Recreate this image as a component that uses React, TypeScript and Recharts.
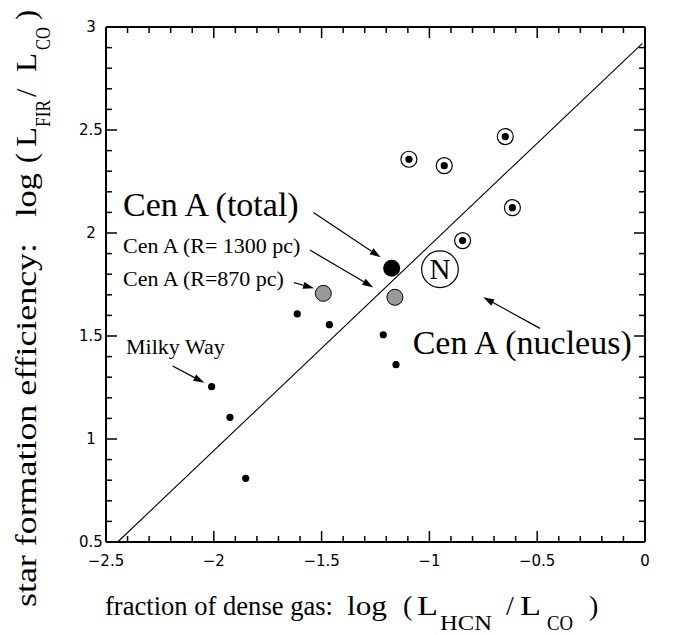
import React from "react";
import { ScatterChart, Scatter, XAxis, YAxis, ReferenceLine } from "recharts";

// ---------- data ----------
const xTicks = [-2.5, -2.4, -2.3, -2.2, -2.1, -2, -1.9, -1.8, -1.7, -1.6, -1.5, -1.4, -1.3, -1.2, -1.1, -1, -0.9, -0.8, -0.7, -0.6, -0.5, -0.4, -0.3, -0.2, -0.1, 0];
const yTicks = [0.5, 0.6, 0.7, 0.8, 0.9, 1, 1.1, 1.2, 1.3, 1.4, 1.5, 1.6, 1.7, 1.8, 1.9, 2, 2.1, 2.2, 2.3, 2.4, 2.5, 2.6, 2.7, 2.8, 2.9, 3];

const smallDots = [
  { x: -2.01, y: 1.254 },
  { x: -1.925, y: 1.105 },
  { x: -1.852, y: 0.809 },
  { x: -1.613, y: 1.607 },
  { x: -1.464, y: 1.555 },
  { x: -1.214, y: 1.506 },
  { x: -1.155, y: 1.361 },
];
const circledDots = [
  { x: -1.095, y: 2.358 },
  { x: -0.931, y: 2.327 },
  { x: -0.648, y: 2.468 },
  { x: -0.615, y: 2.123 },
  { x: -0.846, y: 1.963 },
];
const grayDots = [
  { x: -1.492, y: 1.707 },
  { x: -1.16, y: 1.688 },
];
const totalDot = [{ x: -1.175, y: 1.829 }];
const nucleusDot = [{ x: -0.951, y: 1.824, text: "N" }];

const fitLine = [
  { x: -2.446, y: 0.5 },
  { x: -0.012, y: 2.921 },
];

const labels = [
  { x: -2.421, y: 2.083, text: "Cen A (total)", size: 34 },
  { x: -2.421, y: 1.904, text: "Cen A (R= 1300 pc)", size: 22 },
  { x: -2.421, y: 1.743, text: "Cen A (R=870 pc)", size: 22 },
  { x: -2.407, y: 1.413, text: "Milky Way", size: 22 },
  { x: -1.0775, y: 1.413, text: "Cen A (nucleus)", size: 34 },
];

const arrows = [
  { x1: -1.538, y1: 2.099, x2: -1.226, y2: 1.882 },
  { x1: -1.554, y1: 1.917, x2: -1.26, y2: 1.736 },
  { x1: -1.628, y1: 1.759, x2: -1.535, y2: 1.732 },
  { x1: -2.191, y1: 1.354, x2: -2.044, y2: 1.273 },
  { x1: -0.487, y1: 1.537, x2: -0.75, y2: 1.688 },
];

// axis title pieces: text, position along text, length (0 = natural), subscript?
const xTitleParts = [
  { t: "fraction of dense gas:", p: 105, len: 228, sub: false },
  { t: "log", p: 347, len: 40, sub: false },
  { t: "(", p: 403, len: 0, sub: false },
  { t: "L", p: 417, len: 21, sub: false },
  { t: "HCN", p: 440, len: 52, sub: true },
  { t: "/", p: 506, len: 0, sub: false },
  { t: "L", p: 520, len: 21, sub: false },
  { t: "CO", p: 547, len: 26, sub: true },
  { t: ")", p: 589, len: 0, sub: false },
];
const yTitleParts = [
  { t: "star formation efficiency:", p: 607, len: 364, sub: false },
  { t: "log", p: 217, len: 44, sub: false },
  { t: "(", p: 163, len: 0, sub: false },
  { t: "L", p: 147, len: 20, sub: false },
  { t: "FIR", p: 127, len: 27, sub: true },
  { t: "/", p: 97, len: 0, sub: false },
  { t: "L", p: 72, len: 19, sub: false },
  { t: "CO", p: 50, len: 23, sub: true },
  { t: ")", p: 20, len: 0, sub: false },
];

// ---------- helpers ----------
const SERIF = "'Liberation Serif', 'Times New Roman', serif";
const SANS = "'DejaVu Sans', Arial, sans-serif";
const isMajor = (v: number) => Math.abs(v * 2 - Math.round(v * 2)) < 1e-6;
const fmt = (v: number) => (v < 0 ? "\u2212" + String(Math.abs(v)) : String(v));
const MAJ = 11;
const MIN = 6;

const BottomTick = (p: any) => {
  const { x, y, payload } = p;
  const m = isMajor(payload.value);
  return (
    <g>
      <line x1={x} y1={y} x2={x} y2={y - (m ? MAJ : MIN)} stroke="#000" strokeWidth={1.5} />
      {m && (
        <text x={x} y={y + 24} textAnchor="middle" fontSize={15} fontFamily={SANS} fill="#000">
          {fmt(payload.value)}
        </text>
      )}
    </g>
  );
};
const TopTick = (p: any) => {
  const { x, y, payload } = p;
  const m = isMajor(payload.value);
  return <line x1={x} y1={y} x2={x} y2={y + (m ? MAJ : MIN)} stroke="#000" strokeWidth={1.5} />;
};
const LeftTick = (p: any) => {
  const { x, y, payload } = p;
  const m = isMajor(payload.value);
  return (
    <g>
      <line x1={x} y1={y} x2={x + (m ? MAJ : MIN)} y2={y} stroke="#000" strokeWidth={1.5} />
      {m && (
        <text x={x - 15} y={y + 5} textAnchor="middle" fontSize={15} fontFamily={SANS} fill="#000">
          {fmt(payload.value)}
        </text>
      )}
    </g>
  );
};
const RightTick = (p: any) => {
  const { x, y, payload } = p;
  const m = isMajor(payload.value);
  return <line x1={x} y1={y} x2={x - (m ? MAJ : MIN)} y2={y} stroke="#000" strokeWidth={1.5} />;
};

const ArrowShape = (p: any) => {
  const { x1, y1, x2, y2 } = p;
  const dx = x2 - x1;
  const dy = y2 - y1;
  const len = Math.sqrt(dx * dx + dy * dy) || 1;
  const ux = dx / len;
  const uy = dy / len;
  const hl = 11;
  const hw = 3.5;
  const bx = x2 - ux * hl;
  const by = y2 - uy * hl;
  const pts = `${x2},${y2} ${bx - uy * hw},${by + ux * hw} ${bx + uy * hw},${by - ux * hw}`;
  return (
    <g>
      <line x1={x1} y1={y1} x2={bx} y2={by} stroke="#000" strokeWidth={1.2} />
      <polygon points={pts} fill="#000" />
    </g>
  );
};
const PlainLine = (p: any) => <line x1={p.x1} y1={p.y1} x2={p.x2} y2={p.y2} stroke="#000" strokeWidth={1.1} />;

const SmallDot = (p: any) => <circle cx={p.cx} cy={p.cy} r={3.6} fill="#000" />;
const CircledDot = (p: any) => (
  <g>
    <circle cx={p.cx} cy={p.cy} r={8} fill="#fff" stroke="#000" strokeWidth={1.2} />
    <circle cx={p.cx} cy={p.cy} r={3.6} fill="#000" />
  </g>
);
const GrayDot = (p: any) => <circle cx={p.cx} cy={p.cy} r={8} fill="#999" stroke="#000" strokeWidth={1} />;
const TotalDot = (p: any) => <circle cx={p.cx} cy={p.cy} r={8.5} fill="#000" />;
const NucleusDot = (p: any) => (
  <g>
    <circle cx={p.cx} cy={p.cy} r={18.3} fill="#fff" stroke="#000" strokeWidth={1.2} />
    <text x={p.cx} y={p.cy + 10} textAnchor="middle" fontSize={29} fontFamily={SERIF} fill="#000">
      {p.payload.text}
    </text>
  </g>
);
const LabelShape = (p: any) => (
  <text x={p.cx} y={p.cy} fontSize={p.payload.size} fontFamily={SERIF} fill="#000">
    {p.payload.text}
  </text>
);

const axisLine = { stroke: "#000", strokeWidth: 2 };

const XTitle = () => (
  <g>
    {xTitleParts.map((q, i) => (
      <text
        key={i}
        x={q.p}
        y={q.sub ? 630 : 615}
        fontSize={q.sub ? 22 : 28}
        fontFamily={SERIF}
        fill="#000"
        {...(q.len ? { textLength: q.len, lengthAdjust: "spacingAndGlyphs" } : {})}
      >
        {q.t}
      </text>
    ))}
  </g>
);
const YTitle = () => (
  <g>
    {yTitleParts.map((q, i) => {
      const bx = q.sub ? 50 : 36;
      return (
        <text
          key={i}
          x={bx}
          y={q.p}
          transform={`rotate(-90 ${bx} ${q.p})`}
          fontSize={q.sub ? 21 : 30}
          fontFamily={SERIF}
          fill="#000"
          {...(q.len ? { textLength: q.len, lengthAdjust: "spacingAndGlyphs" } : {})}
        >
          {q.t}
        </text>
      );
    })}
  </g>
);

export default function App() {
  const W = 676;
  const H = 635;
  return (
    <div style={{ position: "absolute", left: 0, top: 0, width: W, height: H, background: "#fff" }}>
      <ScatterChart width={W} height={H} margin={{ left: 105, right: 30, top: 26, bottom: 92 }}>
        <XAxis
          type="number"
          dataKey="x"
          domain={[-2.5, 0]}
          ticks={xTicks}
          interval={0}
          allowDataOverflow
          height={1}
          tickSize={0}
          tickMargin={0}
          tickLine={false}
          axisLine={axisLine}
          tick={BottomTick}
        />
        <XAxis
          xAxisId="top"
          orientation="top"
          type="number"
          dataKey="x"
          domain={[-2.5, 0]}
          ticks={xTicks}
          interval={0}
          allowDataOverflow
          height={1}
          tickSize={0}
          tickMargin={0}
          tickLine={false}
          axisLine={axisLine}
          tick={TopTick}
        />
        <YAxis
          type="number"
          dataKey="y"
          domain={[0.5, 3]}
          ticks={yTicks}
          interval={0}
          allowDataOverflow
          width={1}
          tickSize={0}
          tickMargin={0}
          tickLine={false}
          axisLine={axisLine}
          tick={LeftTick}
        />
        <YAxis
          yAxisId="right"
          orientation="right"
          type="number"
          dataKey="y"
          domain={[0.5, 3]}
          ticks={yTicks}
          interval={0}
          allowDataOverflow
          width={1}
          tickSize={0}
          tickMargin={0}
          tickLine={false}
          axisLine={axisLine}
          tick={RightTick}
        />
        <ReferenceLine
          segment={[
            { x: fitLine[0].x, y: fitLine[0].y },
            { x: fitLine[1].x, y: fitLine[1].y },
          ]}
          shape={PlainLine}
          ifOverflow="visible"
        />
        {arrows.map((a, i) => (
          <ReferenceLine
            key={i}
            segment={[
              { x: a.x1, y: a.y1 },
              { x: a.x2, y: a.y2 },
            ]}
            shape={ArrowShape}
            ifOverflow="visible"
          />
        ))}
        <Scatter data={smallDots} shape={SmallDot} isAnimationActive={false} />
        <Scatter data={circledDots} shape={CircledDot} isAnimationActive={false} />
        <Scatter data={grayDots} shape={GrayDot} isAnimationActive={false} />
        <Scatter data={totalDot} shape={TotalDot} isAnimationActive={false} />
        <Scatter data={nucleusDot} shape={NucleusDot} isAnimationActive={false} />
        <Scatter data={labels} shape={LabelShape} isAnimationActive={false} />
        <XTitle />
        <YTitle />
      </ScatterChart>
    </div>
  );
}
